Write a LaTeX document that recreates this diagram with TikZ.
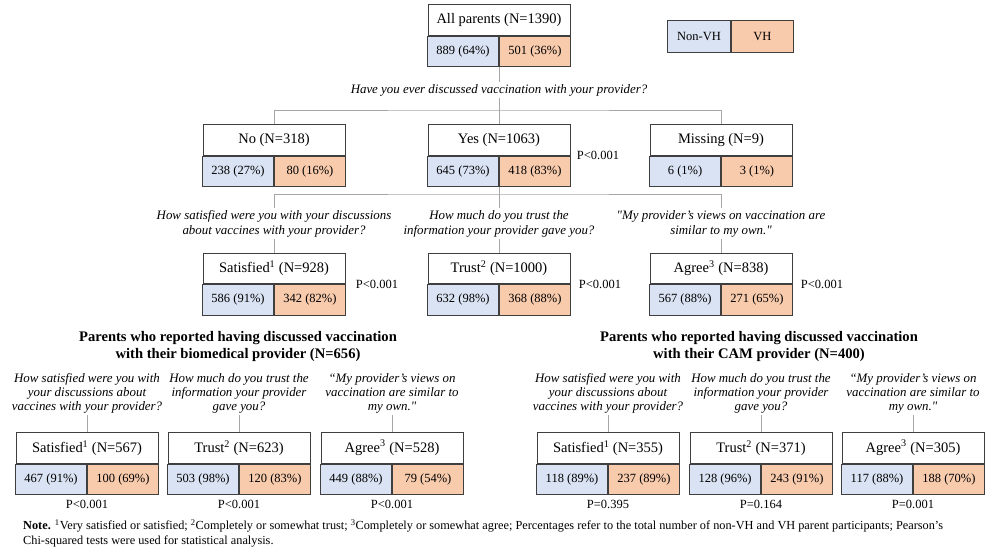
\documentclass[tikz,border=0pt]{standalone}
\usepackage{fontspec}
\setmainfont{Liberation Serif}[Ligatures=TeXOff]
\usetikzlibrary{positioning}
\definecolor{nvhblue}{HTML}{DAE3F3}
\definecolor{vhorange}{HTML}{F8CBAD}
\definecolor{boxline}{HTML}{3F3F3F}
\definecolor{linkgray}{HTML}{A6A6A6}
% header row plus the non-VH / VH row, split point at #2
\newcommand{\splitbox}[5]{%
  \node[hdr] (#1) at (#2) {#3};
  \node[nvh, below left=0pt and 0pt of #1.south] (#1L) {#4};
  \node[vh, below right=0pt and 0pt of #1.south] (#1R) {#5};}

\begin{document}
\begin{tikzpicture}[x=1pt, y=-1pt,
  hdr/.style={draw=boxline, fill=white, line width=0.9pt, anchor=south, inner sep=0pt,
    minimum width=142pt, minimum height=30.5pt, font=\fontsize{14.5}{17}\selectfont},
  nvh/.style={draw=boxline, fill=nvhblue, line width=0.9pt, inner sep=0pt,
    minimum width=71pt, minimum height=30.5pt, font=\fontsize{12.5}{14}\selectfont},
  vh/.style={nvh, fill=vhorange},
  ask/.style={font=\fontsize{12.9}{15}\selectfont\itshape, align=center, inner sep=2pt},
  bask/.style={ask, font=\fontsize{12.9}{13.7}\selectfont\itshape},
  pval/.style={font=\fontsize{12.5}{14}\selectfont},
  head/.style={font=\fontsize{14.6}{17.5}\selectfont\bfseries, align=center},
  link/.style={draw=linkgray, line width=0.8pt}]
  \useasboundingbox (0,0) rectangle (985,555);

  % whole sample and legend
  \splitbox{all}{499,35.5}{All parents (N=1390)}{889 (64\%)}{501 (36\%)}
  \node[nvh, anchor=north west, minimum width=63pt, minimum height=32pt] (legN) at (667,20) {Non-VH};
  \node[vh, right=0pt of legN, minimum width=62pt, minimum height=32pt] (legV) {VH};
  \node[ask] (q0) at (499,90) {Have you ever discussed vaccination with your provider?};
  \coordinate (j0) at (499,110);

  % discussed or not
  \splitbox{no}{274,155.5}{No (N=318)}{238 (27\%)}{80 (16\%)}
  \splitbox{yes}{499,155.5}{Yes (N=1063)}{645 (73\%)}{418 (83\%)}
  \splitbox{miss}{721,155.5}{Missing (N=9)}{6 (1\%)}{3 (1\%)}
  \node[pval] (pyes) at (598,155) {P<0.001};
  \draw[link] (allL.south east) -- (q0);
  \draw[link] (q0) -- (j0);
  \draw[link] (no.north) |- (j0) -| (miss.north);
  \draw[link] (j0) -- (yes.north);

  % all providers
  \coordinate (j1) at (499,194);
  \node[ask] (qsat) at (274,223.5) {How satisfied were you with your discussions\\about vaccines with your provider?};
  \node[ask] (qtrust) at (499,223.5) {How much do you trust the\\information your provider gave you?};
  \node[ask] (qagree) at (721,223.5) {"My provider’s views on vaccination are\\similar to my own."};
  \splitbox{sat}{274,284}{Satisfied\textsuperscript{1} (N=928)}{586 (91\%)}{342 (82\%)}
  \splitbox{trust}{499,284}{Trust\textsuperscript{2} (N=1000)}{632 (98\%)}{368 (88\%)}
  \splitbox{agree}{721,284}{Agree\textsuperscript{3} (N=838)}{567 (88\%)}{271 (65\%)}
  \node[pval] (psat) at (377,284) {P<0.001};
  \node[pval] (ptrust) at (600,284) {P<0.001};
  \node[pval] (pagree) at (822,284) {P<0.001};
  \draw[link] (yesL.south east) -- (j1);
  \draw[link] (qsat) |- (j1) -| (qagree);
  \draw[link] (j1) -- (qtrust);
  \draw[link] (qsat) -- (sat);
  \draw[link] (qtrust) -- (trust);
  \draw[link] (qagree) -- (agree);

  % biomedical provider
  \node[head] (bio) at (238,346.5) {Parents who reported having discussed vaccination\\with their biomedical provider (N=656)};
  \node[bask] (bqsat) at (87,393.5) {How satisfied were you with\\your discussions about\\vaccines with your provider?};
  \node[bask] (bqtrust) at (239,393.5) {How much do you trust the\\information your provider\\gave you?};
  \node[bask] (bqagree) at (392,393.5) {“My provider’s views on\\vaccination are similar to\\my own."};
  \splitbox{bsat}{87,463.5}{Satisfied\textsuperscript{1} (N=567)}{467 (91\%)}{100 (69\%)}
  \splitbox{btrust}{239,463.5}{Trust\textsuperscript{2} (N=623)}{503 (98\%)}{120 (83\%)}
  \splitbox{bagree}{392,463.5}{Agree\textsuperscript{3} (N=528)}{449 (88\%)}{79 (54\%)}
  \node[pval, below=2pt of bsatL.south east] (pbsat) {P<0.001};
  \node[pval, below=2pt of btrustL.south east] (pbtrust) {P<0.001};
  \node[pval, below=2pt of bagreeL.south east] (pbagree) {P<0.001};
  \draw[link] (bqsat) -- (bsat);
  \draw[link] (bqtrust) -- (btrust);
  \draw[link] (bqagree) -- (bagree);

  % CAM provider
  \node[head] (cam) at (759,346.5) {Parents who reported having discussed vaccination\\with their CAM provider (N=400)};
  \node[bask] (cqsat) at (608,393.5) {How satisfied were you with\\your discussions about\\vaccines with your provider?};
  \node[bask] (cqtrust) at (761,393.5) {How much do you trust the\\information your provider\\gave you?};
  \node[bask] (cqagree) at (913,393.5) {“My provider’s views on\\vaccination are similar to\\my own."};
  \splitbox{csat}{608,463.5}{Satisfied\textsuperscript{1} (N=355)}{118 (89\%)}{237 (89\%)}
  \splitbox{ctrust}{761,463.5}{Trust\textsuperscript{2} (N=371)}{128 (96\%)}{243 (91\%)}
  \splitbox{cagree}{913,463.5}{Agree\textsuperscript{3} (N=305)}{117 (88\%)}{188 (70\%)}
  \node[pval, below=2pt of csatL.south east] (pcsat) {P=0.395};
  \node[pval, below=2pt of ctrustL.south east] (pctrust) {P=0.164};
  \node[pval, below=2pt of cagreeL.south east] (pcagree) {P=0.001};
  \draw[link] (cqsat) -- (csat);
  \draw[link] (cqtrust) -- (ctrust);
  \draw[link] (cqagree) -- (cagree);

  % note
  \node[anchor=north west, align=left, inner sep=0pt, font=\fontsize{12.3}{15}\selectfont] (note) at (23,519.5)
    {\textbf{Note.} \textsuperscript{1}Very satisfied or satisfied; \textsuperscript{2}Completely or somewhat trust; \textsuperscript{3}Completely or somewhat agree; Percentages refer to the total number of non-VH and VH parent participants; Pearson’s\\Chi-squared tests were used for statistical analysis.};
\end{tikzpicture}
\end{document}
